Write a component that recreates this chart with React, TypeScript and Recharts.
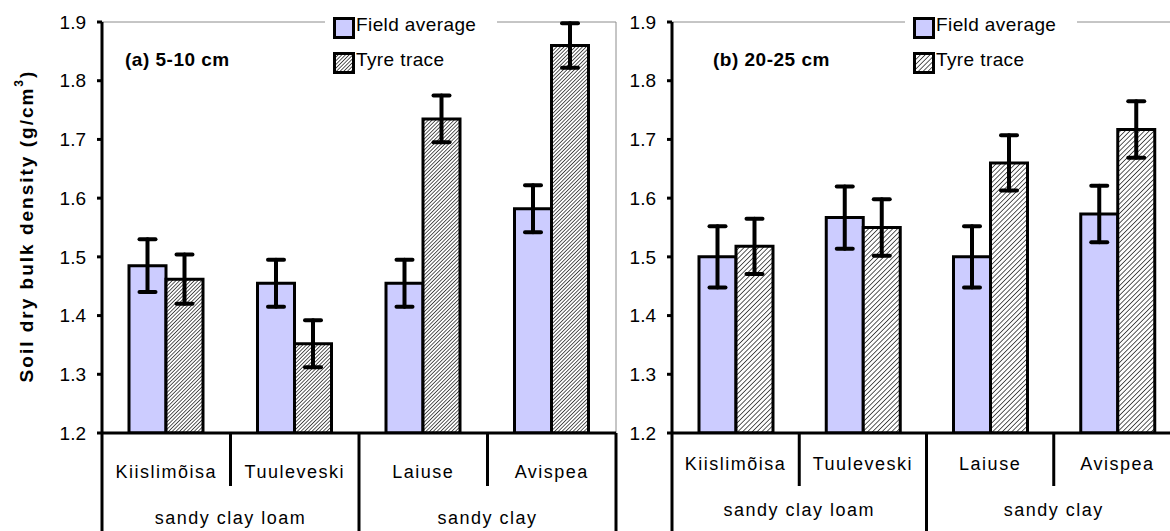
import React from "react";
import { Bar, BarChart, ErrorBar, ReferenceArea, XAxis, YAxis } from "recharts";

const sites = ["Kiislimõisa", "Tuuleveski", "Laiuse", "Avispea"];
const soilGroups = ["sandy clay loam", "sandy clay"];
const yTicks = [1.2, 1.3, 1.4, 1.5, 1.6, 1.7, 1.8, 1.9];

// (a) 5-10 cm
const fieldAvgTop = [1.485, 1.455, 1.455, 1.582];
const fieldErrTop = [0.045, 0.04, 0.04, 0.04];
const tyreTop = [1.462, 1.352, 1.735, 1.86];
const tyreErrTop = [0.042, 0.04, 0.04, 0.038];

// (b) 20-25 cm
const fieldAvgSub = [1.5, 1.567, 1.5, 1.573];
const fieldErrSub = [0.052, 0.053, 0.052, 0.048];
const tyreSub = [1.518, 1.55, 1.66, 1.717];
const tyreErrSub = [0.047, 0.048, 0.047, 0.048];

const FONT = "'Liberation Sans', Arial, sans-serif";
const FA_FILL = "#ccccff";
const H = 531;
const TOP = 22;
const AXIS_H = 98;

function build(avg: number[], avgErr: number[], tyre: number[], tyreErr: number[]) {
  return sites.map((site, i) => ({
    site,
    field: avg[i],
    fieldErr: avgErr[i],
    tyre: tyre[i],
    tyreErr: tyreErr[i],
  }));
}

function SiteTick(props: any) {
  const { x, y, index, payload, band, nameDy, groupDy } = props;
  const half = band / 2;
  const endOfGroup = index % 2 === 1;
  const txt = { textAnchor: "middle" as const, dominantBaseline: "central" as const, fontSize: 18, fill: "#000", fontFamily: FONT, letterSpacing: 1.5 };
  return (
    <g>
      {index === 0 && (
        <line x1={x - half} y1={y} x2={x - half} y2={y + AXIS_H} stroke="#000" strokeWidth={3} />
      )}
      <line
        x1={x + half}
        y1={y}
        x2={x + half}
        y2={endOfGroup ? y + AXIS_H : y + 53}
        stroke="#000"
        strokeWidth={3}
      />
      <text x={x} y={y + nameDy} {...txt}>
        {payload.value}
      </text>
      {!endOfGroup && (
        <text x={x + half} y={y + groupDy} {...txt}>
          {soilGroups[index < 2 ? 0 : 1]}
        </text>
      )}
    </g>
  );
}

function LegendBox({ hatchId, x }: { hatchId: string; x: number }) {
  const sw = (fill: string) => (
    <svg width={22} height={22} style={{ display: "block", marginRight: 1, flex: "none" }}>
      <rect x={1.5} y={1.5} width={19} height={19} fill={fill} stroke="#000" strokeWidth={3} />
    </svg>
  );
  const row = { display: "flex", alignItems: "center", height: 22, fontSize: 19, fontFamily: FONT, color: "#000", lineHeight: "22px", letterSpacing: 0.4, whiteSpace: "nowrap" } as const;
  return (
    <div style={{ position: "absolute", left: x, top: 17, background: "#fff", padding: "0 8px", width: 156 }}>
      <div style={{ ...row, marginBottom: 13 }}>
        {sw(FA_FILL)}
        <span style={{ marginTop: -6 }}>Field average</span>
      </div>
      <div style={row}>
        {sw(`url(#${hatchId})`)}
        <span style={{ marginTop: -6 }}>Tyre trace</span>
      </div>
    </div>
  );
}

type PanelProps = {
  left: number;
  width: number;
  yAxisWidth: number;
  marginRight: number;
  title: string;
  titleX: number;
  legendX: number;
  data: ReturnType<typeof build>;
  hatchId: string;
  hatchGap: number;
  nameDy: number;
  groupDy: number;
  showYLabel?: boolean;
};

function Panel(p: PanelProps) {
  const band = (p.width - p.yAxisWidth - p.marginRight) / sites.length;
  return (
    <div style={{ position: "absolute", left: p.left, top: 0, width: p.width, height: H }}>
      <BarChart
        width={p.width}
        height={H}
        data={p.data}
        margin={{ top: TOP, right: p.marginRight, bottom: 0, left: 0 }}
        barSize={37}
        barGap={0}
      >
        <defs>
          <pattern id={p.hatchId} width={p.hatchGap} height={p.hatchGap} patternUnits="userSpaceOnUse" patternTransform="rotate(45)">
            <rect width={p.hatchGap} height={p.hatchGap} fill="#fff" />
            <line x1={0} y1={0} x2={0} y2={p.hatchGap} stroke="#000" strokeWidth={1.3} />
          </pattern>
        </defs>
        <ReferenceArea
          x1={sites[0]}
          x2={sites[sites.length - 1]}
          y1={1.2}
          y2={1.9}
          fill="none"
          stroke="#8c8c8c"
          strokeWidth={1}
          ifOverflow="visible"
        />
        <XAxis
          dataKey="site"
          interval={0}
          height={AXIS_H}
          axisLine={{ stroke: "#000", strokeWidth: 3 }}
          tickLine={false}
          tickSize={0}
          tickMargin={0}
          tick={<SiteTick band={band} nameDy={p.nameDy} groupDy={p.groupDy} />}
        />
        <YAxis
          domain={[1.2, 1.9]}
          ticks={yTicks}
          interval={0}
          width={p.yAxisWidth}
          allowDataOverflow
          axisLine={{ stroke: "#000", strokeWidth: 3 }}
          tickLine={{ stroke: "#000", strokeWidth: 3 }}
          tickSize={5}
          tickMargin={11}
          tickFormatter={(v: number) => v.toFixed(1)}
          tick={{ fill: "#000", fontSize: 19, fontFamily: FONT }}
        />
        <Bar dataKey="field" name="Field average" fill={FA_FILL} stroke="#000" strokeWidth={3} isAnimationActive={false}>
          <ErrorBar dataKey="fieldErr" width={8} stroke="#000" strokeWidth={4} strokeLinecap="round" />
        </Bar>
        <Bar dataKey="tyre" name="Tyre trace" fill={`url(#${p.hatchId})`} stroke="#000" strokeWidth={3} isAnimationActive={false}>
          <ErrorBar dataKey="tyreErr" width={8} stroke="#000" strokeWidth={4} strokeLinecap="round" />
        </Bar>
      </BarChart>
      <LegendBox hatchId={p.hatchId} x={p.legendX} />
      <div
        style={{
          position: "absolute",
          left: p.titleX,
          top: 49,
          fontSize: 19,
          lineHeight: "22px",
          fontWeight: "bold",
          fontFamily: FONT,
          letterSpacing: 0.5,
          color: "#000",
          whiteSpace: "nowrap",
        }}
      >
        {p.title}
      </div>
      {p.showYLabel && (
        <svg style={{ position: "absolute", left: 0, top: 0 }} width={60} height={H}>
          <text
            transform="translate(26, 226) rotate(-90)"
            textAnchor="middle"
            dominantBaseline="central"
            fontSize={19}
            fontWeight="bold"
            fontFamily={FONT}
            letterSpacing={2}
            fill="#000"
          >
            Soil dry bulk density (g/cm
            <tspan dy={-7} fontSize={12}>3</tspan>
            <tspan dy={7}>)</tspan>
          </text>
        </svg>
      )}
    </div>
  );
}

export default function App() {
  const top = build(fieldAvgTop, fieldErrTop, tyreTop, tyreErrTop);
  const sub = build(fieldAvgSub, fieldErrSub, tyreSub, tyreErrSub);
  return (
    <div style={{ position: "absolute", left: 0, top: 0, width: 1170, height: H, overflow: "hidden", background: "#fff" }}>
      <Panel
        left={0}
        width={620}
        yAxisWidth={102}
        marginRight={4}
        title="(a) 5-10 cm"
        titleX={125}
        legendX={325}
        data={top}
        hatchId="hatchA"
        hatchGap={2.6}
        nameDy={39}
        groupDy={85}
        showYLabel
      />
      <Panel
        left={616}
        width={570}
        yAxisWidth={56}
        marginRight={5}
        title="(b) 20-25 cm"
        titleX={97}
        legendX={289}
        data={sub}
        hatchId="hatchB"
        hatchGap={3.4}
        nameDy={31}
        groupDy={77}
      />
    </div>
  );
}
